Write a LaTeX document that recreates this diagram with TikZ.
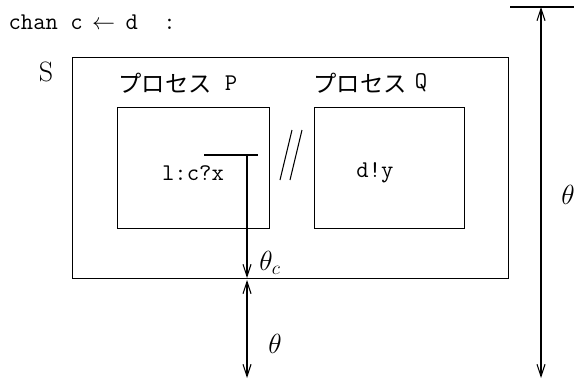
\documentclass[tikz,border=0pt]{standalone}
\usepackage{fontspec}
\newfontfamily\jp{Noto Sans CJK JP}
\usetikzlibrary{arrows.meta}
\begin{document}
\begin{tikzpicture}[x=0.75pt,y=-0.75pt,line width=0.8pt,
  box/.style={draw,inner sep=0pt,anchor=north west},
  code/.style={font=\fontsize{18}{22}\selectfont\ttfamily,inner sep=0pt},
  jlabel/.style={font=\fontsize{17.5}{21}\selectfont\jp,inner sep=0pt},
  mlabel/.style={font=\fontsize{21}{25}\selectfont,inner sep=0pt},
  tipend/.style={-{Straight Barb[length=9pt,width=6pt]}},
  tipboth/.style={{Straight Barb[length=9pt,width=6pt]}-{Straight Barb[length=9pt,width=6pt]}}]
\path[use as bounding box] (0,0) rectangle (576,382);
% title
\node[code,anchor=west] (title) at (8,22) {chan c\hspace{7pt}$\leftarrow$\hspace{8pt}d\hspace{19pt}:};
% outer box S
\node[box,minimum width=327pt,minimum height=165.75pt] (S) at (72,57) {};
\node[font=\fontsize{21}{25}\selectfont,inner sep=0pt] (Slab) at (46,72) {S};
% process boxes
\node[box,minimum width=114pt,minimum height=90.75pt] (P) at (117,107) {};
\node[box,minimum width=112.5pt,minimum height=90.75pt] (Q) at (314,107) {};
\node[jlabel,anchor=west] (Plab) at (118,83) {プロセス};
\node[code] (Pname) at (231,83) {P};
\node[jlabel,anchor=west] (Qlab) at (313,83) {プロセス};
\node[code] (Qname) at (421,83) {Q};
\node[code] (lcx) at (193,173) {l:c?x};
\node[code] (dy) at (375,173) {d!y};
% parallel bars
\coordinate (a1) at (280,180); \coordinate (a2) at (292,130);
\coordinate (b1) at (290,180); \coordinate (b2) at (302,130);
\draw (a1) -- (a2);
\draw (b1) -- (b2);
% theta_c arrow
\coordinate (h1) at (204,155); \coordinate (h2) at (258,155);
\coordinate (v1) at (247,155); \coordinate (v2) at (247,278);
\draw (h1) -- (h2);
\draw[tipend] (v1) -- (v2);
\node[mlabel] (thc) at (270,263) {$\theta_c$};
% lower theta
\coordinate (l1) at (247,280); \coordinate (l2) at (247,378);
\draw[tipboth] (l1) -- (l2);
\node[mlabel] (th1) at (275,344) {$\theta$};
% right theta
\coordinate (t1) at (510,7); \coordinate (t2) at (574,7);
\draw (t1) -- (t2);
\coordinate (r1) at (541,7); \coordinate (r2) at (541,378);
\draw[tipboth] (r1) -- (r2);
\node[mlabel] (th2) at (568,195) {$\theta$};
\end{tikzpicture}
\end{document}
